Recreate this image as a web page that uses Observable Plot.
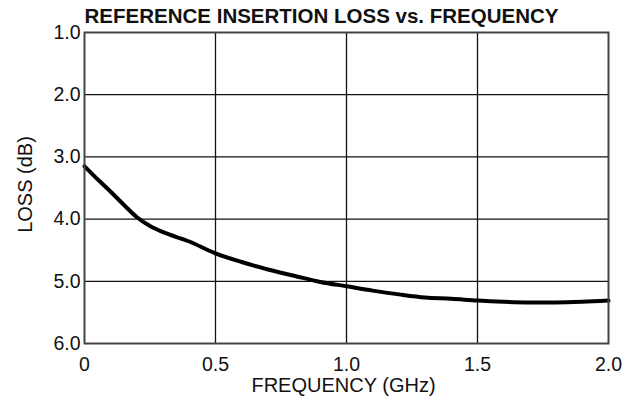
<!DOCTYPE html>
<html><head><meta charset="utf-8">
<script src="https://cdn.jsdelivr.net/npm/d3@7"></script>
<script src="https://cdn.jsdelivr.net/npm/@observablehq/plot@0.6"></script>
<style>
body{margin:0;background:#fff;}
#wrap{position:relative;width:631px;height:402px;overflow:hidden;}
#title{position:absolute;left:0;top:0;width:631px;padding-left:12px;padding-top:2px;box-sizing:border-box;text-align:center;font:bold 20.5px "Liberation Sans",Arial,sans-serif;line-height:28px;color:#111;}
</style></head><body>
<div id="wrap"><div id="chart"></div><div id="title"></div></div>
<script>
const titleText = "REFERENCE INSERTION LOSS vs. FREQUENCY";
const xLabel = "FREQUENCY (GHz)";
const yLabel = "LOSS (dB)";
const freqGHz = [0, 0.05, 0.1, 0.15, 0.2, 0.25, 0.3, 0.4, 0.5, 0.6, 0.7, 0.8, 0.9, 1.0, 1.1, 1.2, 1.3, 1.4, 1.5, 1.6, 1.7, 1.8, 1.9, 2.0];
const lossDB  = [3.15, 3.36, 3.56, 3.77, 3.97, 4.11, 4.21, 4.36, 4.55, 4.69, 4.81, 4.91, 5.01, 5.08, 5.15, 5.21, 5.26, 5.28, 5.31, 5.33, 5.34, 5.34, 5.33, 5.31];
const xTicks = [0, 0.5, 1, 1.5, 2];
const xTickLabels = ["0", "0.5", "1.0", "1.5", "2.0"];
const yTicks = [1, 2, 3, 4, 5, 6];
const yTickLabels = ["1.0", "2.0", "3.0", "4.0", "5.0", "6.0"];
const xGrid = [0.5, 1, 1.5];
const yGrid = [2, 3, 4, 5];

const data = freqGHz.map((f, i) => ({f, loss: lossDB[i]}));
document.getElementById("title").textContent = titleText;

const font = '"Liberation Sans", Arial, sans-serif';
const chart = Plot.plot({
  width: 631, height: 402,
  marginTop: 32, marginBottom: 59, marginLeft: 84, marginRight: 23,
  style: {fontFamily: font, fontSize: "19.5px", color: "#111", background: "#fff"},
  x: {domain: [0, 2], ticks: xTicks, tickFormat: d => xTickLabels[xTicks.indexOf(d)], tickSize: 0, tickPadding: 14, label: null},
  y: {domain: [1, 6], reverse: true, ticks: yTicks, tickFormat: d => yTickLabels[yTicks.indexOf(d)], tickSize: 0, tickPadding: 4, label: null},
  marks: [
    Plot.ruleX(xGrid, {stroke: "#111", strokeWidth: 1.3}),
    Plot.ruleY(yGrid, {stroke: "#111", strokeWidth: 1.3}),
    Plot.line(data, {x: "f", y: "loss", stroke: "#000", strokeWidth: 4, curve: "monotone-x"}),
    Plot.frame({stroke: "#444", strokeWidth: 2}),
    Plot.text([xLabel], {frameAnchor: "bottom", text: d => d, textAnchor: "middle", lineAnchor: "middle", dy: 42.5, dx: -3, fontSize: 20, fill: "#111"}),
    Plot.text([yLabel], {frameAnchor: "left", text: d => d, rotate: -90, textAnchor: "middle", lineAnchor: "middle", dx: -59, dy: -3.5, fontSize: 20, fill: "#111"})
  ]
});
document.getElementById("chart").appendChild(chart);
</script>
</body></html>
